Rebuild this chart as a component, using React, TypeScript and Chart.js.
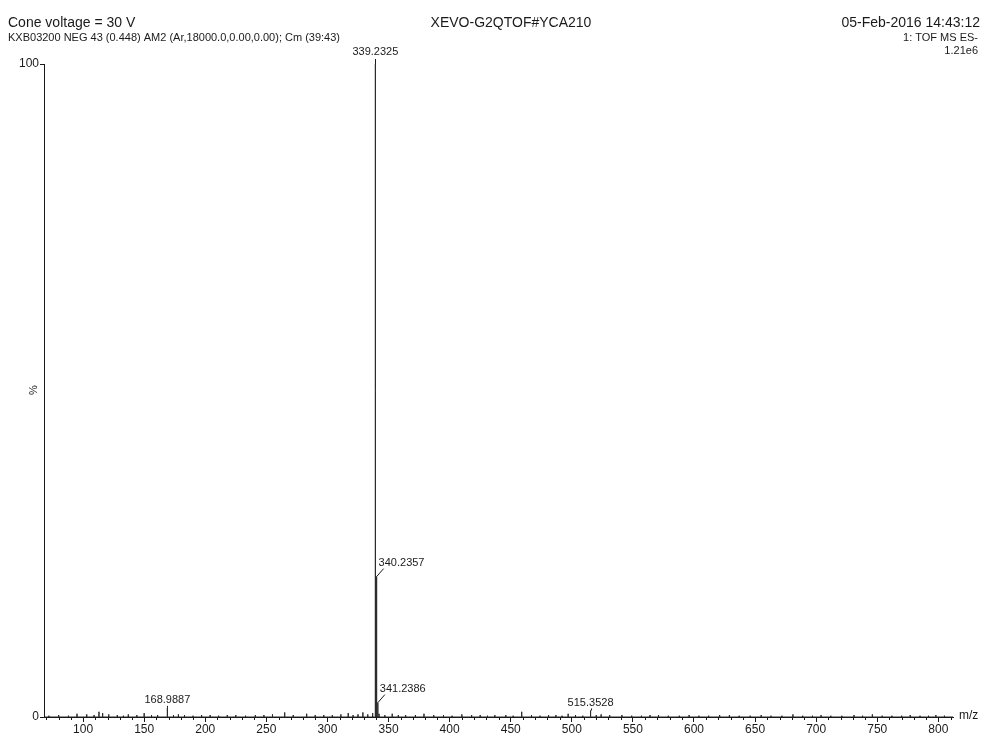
import React, { useEffect, useRef } from "react";
import { Chart, registerables } from "chart.js";

Chart.register(...registerables);

// ---- Data ----
const peakMz: number[] = [
  72, 80, 88, 95, 103, 109, 113, 116, 121, 128, 133, 137, 144, 150, 156, 161, 168.9887, 174, 178, 183,
  190, 197, 204, 211, 218, 225, 233, 241, 248, 255, 265, 272, 283, 290, 297, 304, 311, 317, 321, 325,
  329, 333, 337, 339.2325, 340.2357, 341.2386, 342.24, 347, 353, 358, 364, 372, 379, 387, 395, 402,
  410, 418, 425, 431, 437, 446, 452, 459, 467, 474, 481, 487, 492, 497, 503, 509, 515.3528, 520, 524,
  531, 541, 549, 557, 564, 571, 579, 588, 596, 604, 612, 621, 629, 637, 646, 655, 663, 672, 681, 689,
  697, 704, 712, 721, 731, 738, 746, 754, 762, 770, 777, 785, 792, 798, 805,
];
const peakIntensity: number[] = [
  0.2, 0.3, 0.2, 0.5, 0.4, 0.3, 0.8, 0.6, 0.4, 0.3, 0.2, 0.4, 0.3, 0.6, 0.3, 0.3, 1.4, 0.3, 0.4, 0.3,
  0.2, 0.3, 0.3, 0.2, 0.3, 0.3, 0.2, 0.3, 0.3, 0.4, 0.7, 0.3, 0.5, 0.3, 0.3, 0.3, 0.4, 0.6, 0.3, 0.4,
  0.7, 0.4, 0.6, 100, 21.5, 2.2, 0.5, 0.3, 0.5, 0.3, 0.3, 0.3, 0.5, 0.3, 0.3, 0.2,
  0.4, 0.3, 0.3, 0.2, 0.3, 0.3, 0.2, 0.8, 0.3, 0.2, 0.3, 0.3, 0.2, 0.5, 0.3, 0.2, 1.0, 0.3, 0.4,
  0.3, 0.3, 0.2, 0.2, 0.3, 0.3, 0.2, 0.2, 0.3, 0.2, 0.2, 0.3, 0.3, 0.2, 0.2, 0.3, 0.2, 0.2, 0.4, 0.2,
  0.2, 0.3, 0.2, 0.2, 0.3, 0.2, 0.4, 0.2, 0.2, 0.2, 0.3, 0.2, 0.2, 0.3, 0.2,
];
const labelledMz: number[] = [339.2325, 340.2357, 341.2386, 168.9887, 515.3528];
const labelledText: string[] = ["339.2325", "340.2357", "341.2386", "168.9887", "515.3528"];
const xTickValues: number[] = [100, 150, 200, 250, 300, 350, 400, 450, 500, 550, 600, 650, 700, 750, 800];
const yTickValues: number[] = [0, 100];
const headerLeft: string[] = ["Cone voltage = 30 V", "KXB03200 NEG 43 (0.448) AM2 (Ar,18000.0,0.00,0.00); Cm (39:43)"];
const headerCenter = "XEVO-G2QTOF#YCA210";
const headerRight: string[] = ["05-Feb-2016 14:43:12", "1: TOF MS ES-", "1.21e6"];
const xAxisTitle = "m/z";
const yAxisTitle = "%";

const X_MIN = 68;
const X_MAX = 812;
const FONT = "'Liberation Sans', Arial, sans-serif";
const INK = "#1a1a1a";

function buildStickData() {
  const pts: { x: number; y: number }[] = [];
  const order = peakMz.map((_, i) => i).sort((a, b) => peakMz[a] - peakMz[b]);
  pts.push({ x: X_MIN, y: 0 });
  for (const i of order) {
    pts.push({ x: peakMz[i], y: 0 });
    pts.push({ x: peakMz[i], y: peakIntensity[i] });
    pts.push({ x: peakMz[i], y: 0 });
  }
  pts.push({ x: X_MAX, y: 0 });
  return pts;
}

const decorPlugin = {
  id: "decor",
  afterDraw(chart: any) {
    const ctx = chart.ctx as CanvasRenderingContext2D;
    const xs = chart.scales.x;
    const ys = chart.scales.y;
    const area = chart.chartArea;
    ctx.save();
    ctx.fillStyle = INK;
    ctx.strokeStyle = INK;
    ctx.lineWidth = 1;

    // minor x ticks every 10
    for (let v = 70; v <= 810; v += 10) {
      if (v % 50 === 0) continue;
      const px = Math.round(xs.getPixelForValue(v)) + 0.5;
      ctx.beginPath();
      ctx.moveTo(px, area.bottom);
      ctx.lineTo(px, area.bottom + 3);
      ctx.stroke();
    }

    // header
    ctx.textBaseline = "middle";
    ctx.font = `14px ${FONT}`;
    ctx.textAlign = "left";
    ctx.fillText(headerLeft[0], 8, 23);
    ctx.textAlign = "center";
    ctx.fillText(headerCenter, 511, 23);
    ctx.textAlign = "right";
    ctx.fillText(headerRight[0], 980, 23);
    ctx.font = `11px ${FONT}`;
    ctx.textAlign = "left";
    ctx.fillText(headerLeft[1], 8, 38);
    ctx.textAlign = "right";
    ctx.fillText(headerRight[1], 978, 38);
    ctx.fillText(headerRight[2], 978, 51);

    // axis titles
    ctx.font = `12px ${FONT}`;
    ctx.textAlign = "left";
    ctx.fillText(xAxisTitle, area.right + 6, area.bottom - 1);
    ctx.save();
    ctx.translate(34, 390);
    ctx.rotate(-Math.PI / 2);
    ctx.textAlign = "center";
    ctx.font = `11px ${FONT}`;
    ctx.fillText(yAxisTitle, 0, 0);
    ctx.restore();

    // peak labels
    ctx.font = `11px ${FONT}`;
    labelledMz.forEach((m, k) => {
      const idx = peakMz.indexOf(m);
      const h = peakIntensity[idx];
      const px = xs.getPixelForValue(m);
      const py = ys.getPixelForValue(h);
      const hasCloseLeft = peakMz.some((o) => o < m && m - o < 1.5 && peakIntensity[peakMz.indexOf(o)] > h);
      ctx.beginPath();
      if (hasCloseLeft) {
        ctx.moveTo(px, py);
        ctx.lineTo(px + 7, py - 8);
        ctx.stroke();
        ctx.textAlign = "left";
        ctx.fillText(labelledText[k], px + 2, py - 14);
      } else if (h >= 99) {
        ctx.moveTo(Math.round(px) + 0.5, py);
        ctx.lineTo(Math.round(px) + 0.5, py - 5);
        ctx.stroke();
        ctx.textAlign = "center";
        ctx.fillText(labelledText[k], px, py - 12);
      } else {
        ctx.moveTo(Math.round(px) + 0.5, py);
        ctx.lineTo(Math.round(px) + 0.5, py - 2);
        ctx.stroke();
        ctx.textAlign = "center";
        ctx.fillText(labelledText[k], px, py - 8);
      }
    });
    ctx.restore();
  },
};

export default function App() {
  const ref = useRef<HTMLCanvasElement | null>(null);
  useEffect(() => {
    if (!ref.current) return;
    const chart = new Chart(ref.current, {
      type: "line",
      data: {
        datasets: [
          {
            data: buildStickData(),
            borderColor: "#2a2a2a",
            borderWidth: 1,
            pointRadius: 0,
            tension: 0,
            fill: false,
          },
        ],
      },
      options: {
        animation: false,
        responsive: false,
        parsing: false as any,
        normalized: true,
        layout: { padding: { top: 64, right: 31, left: 0, bottom: 0 } },
        plugins: { legend: { display: false }, tooltip: { enabled: false }, title: { display: false } },
        scales: {
          x: {
            type: "linear",
            min: X_MIN,
            max: X_MAX,
            afterBuildTicks: (s: any) => {
              s.ticks = xTickValues.map((v) => ({ value: v }));
            },
            afterFit: (s: any) => {
              s.height = 20;
            },
            grid: { drawOnChartArea: false, drawTicks: true, tickLength: 5, color: INK },
            border: { color: INK, width: 1 },
            ticks: { color: INK, font: { family: FONT, size: 12 }, padding: 0, maxRotation: 0, autoSkip: false },
          },
          y: {
            type: "linear",
            min: 0,
            max: 100,
            afterBuildTicks: (s: any) => {
              s.ticks = yTickValues.map((v) => ({ value: v }));
            },
            afterFit: (s: any) => {
              s.width = 44;
            },
            grid: { drawOnChartArea: false, drawTicks: true, tickLength: 4, color: INK },
            border: { color: INK, width: 1 },
            ticks: { color: INK, font: { family: FONT, size: 12 }, padding: 1 },
          },
        },
      },
      plugins: [decorPlugin],
    });
    return () => chart.destroy();
  }, []);
  return (
    <div style={{ position: "absolute", left: 0, top: 0, width: 984, height: 737, background: "#fff" }}>
      <canvas ref={ref} width={984} height={737} style={{ display: "block" }} />
    </div>
  );
}
